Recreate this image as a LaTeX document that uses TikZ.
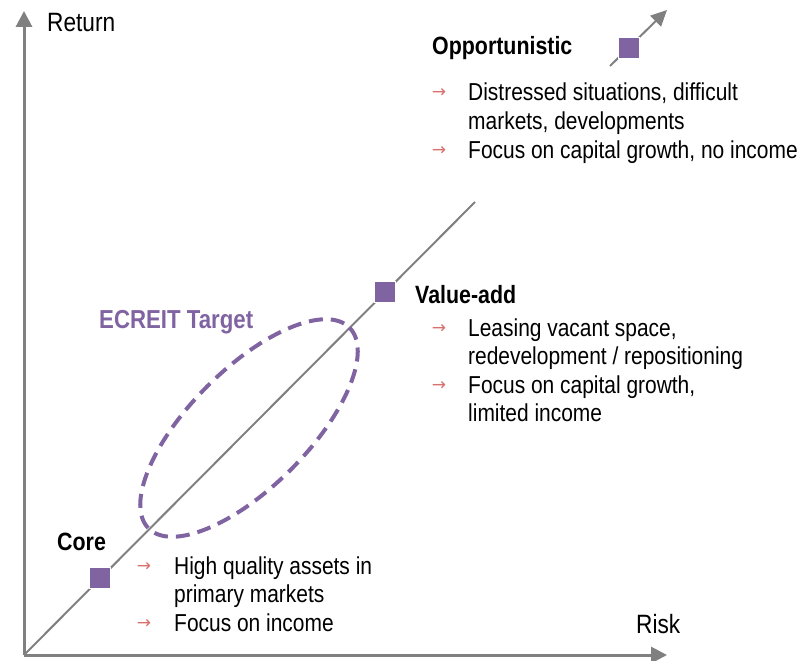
\documentclass[tikz,border=0pt]{standalone}
\usepackage{fontspec}
\setmainfont[FakeStretch=0.855]{Liberation Sans}
\newfontfamily\arrowfont{DejaVu Sans}
\usetikzlibrary{arrows.meta}
\definecolor{axisgray}{HTML}{808080}
\definecolor{stylepurple}{HTML}{8064A2}
\definecolor{bulletred}{HTML}{D8716E}
\tikzset{
  axisline/.style={draw=axisgray, line width=3pt, -{Triangle[length=16pt,width=16pt]}},
  diagline/.style={draw=axisgray, line width=2pt},
  marker/.style={rectangle, minimum size=21pt, inner sep=0pt, fill=stylepurple, draw=white, line width=0.6pt},
  axislabel/.style={font=\fontsize{26.5}{31}\selectfont, anchor=base west, inner sep=0pt},
  stylename/.style={font=\fontsize{25}{30}\selectfont\bfseries, anchor=base west, inner sep=0pt},
  bodytext/.style={font=\fontsize{24.5}{29}\selectfont, anchor=base west, inner sep=0pt},
  bulletmark/.style={font=\arrowfont\fontsize{17}{20}\selectfont, text=bulletred, inner sep=0pt},
}
\begin{document}
\begin{tikzpicture}[x=1pt, y=-1pt]
  \useasboundingbox (0,0) rectangle (811,661);

  % axes
  \coordinate (origin) at (24,655);
  \coordinate (ytip) at (24,11);
  \coordinate (xtip) at (667,655);
  \draw[axisline] (origin) -- (ytip);
  \draw[axisline] (origin) -- (xtip);
  \node[axislabel] (returnlbl) at (47,32) {Return};
  \node[axislabel] (risklbl) at (636,633) {Risk};

  % risk/return diagonal, interrupted behind the text
  \coordinate (diagbreak) at (475,202);
  \coordinate (diagresume) at (610,66);
  \coordinate (diagtip) at (667,10);
  \draw[diagline] (origin) -- (diagbreak);
  \draw[diagline, -{Triangle[length=16pt,width=15pt]}] (diagresume) -- (diagtip);

  % target band
  \coordinate (band) at (249,428);
  \draw[stylepurple, line width=4pt, dash pattern=on 14pt off 8pt, rotate around={45:(band)}]
    (band) ellipse [x radius=142, y radius=59];
  \node[stylename, text=stylepurple, font=\fontsize{26}{31}\selectfont\bfseries] (target) at (99,328) {ECREIT Target};

  % strategy markers
  \node[marker] (core) at (99.5,577.5) {};
  \node[marker] (valueadd) at (385,292) {};
  \node[marker] (opport) at (628.5,47.5) {};

  % Opportunistic
  \node[stylename] (opptitle) at (432,55) {Opportunistic};
  \node[bulletmark] (oppb1) at (439,93) {→};
  \node[bodytext] (opp1a) at (468,100.5) {Distressed situations, difficult};
  \node[bodytext] (opp1b) at (468,129) {markets, developments};
  \node[bulletmark] (oppb2) at (439,151) {→};
  \node[bodytext] (opp2) at (468,158) {Focus on capital growth, no income};

  % Value-add
  \node[stylename] (vatitle) at (415,303) {Value-add};
  \node[bulletmark] (vab1) at (439,329) {→};
  \node[bodytext] (va1a) at (468,336) {Leasing vacant space,};
  \node[bodytext] (va1b) at (468,364) {redevelopment / repositioning};
  \node[bulletmark] (vab2) at (439,386) {→};
  \node[bodytext] (va2a) at (468,393) {Focus on capital growth,};
  \node[bodytext] (va2b) at (468,421) {limited income};

  % Core
  \node[stylename] (coretitle) at (57,550) {Core};
  \node[bulletmark] (coreb1) at (144,567) {→};
  \node[bodytext] (core1a) at (174,574) {High quality assets in};
  \node[bodytext] (core1b) at (174,602.5) {primary markets};
  \node[bulletmark] (coreb2) at (144,624) {→};
  \node[bodytext] (core2) at (174,631) {Focus on income};
\end{tikzpicture}
\end{document}
